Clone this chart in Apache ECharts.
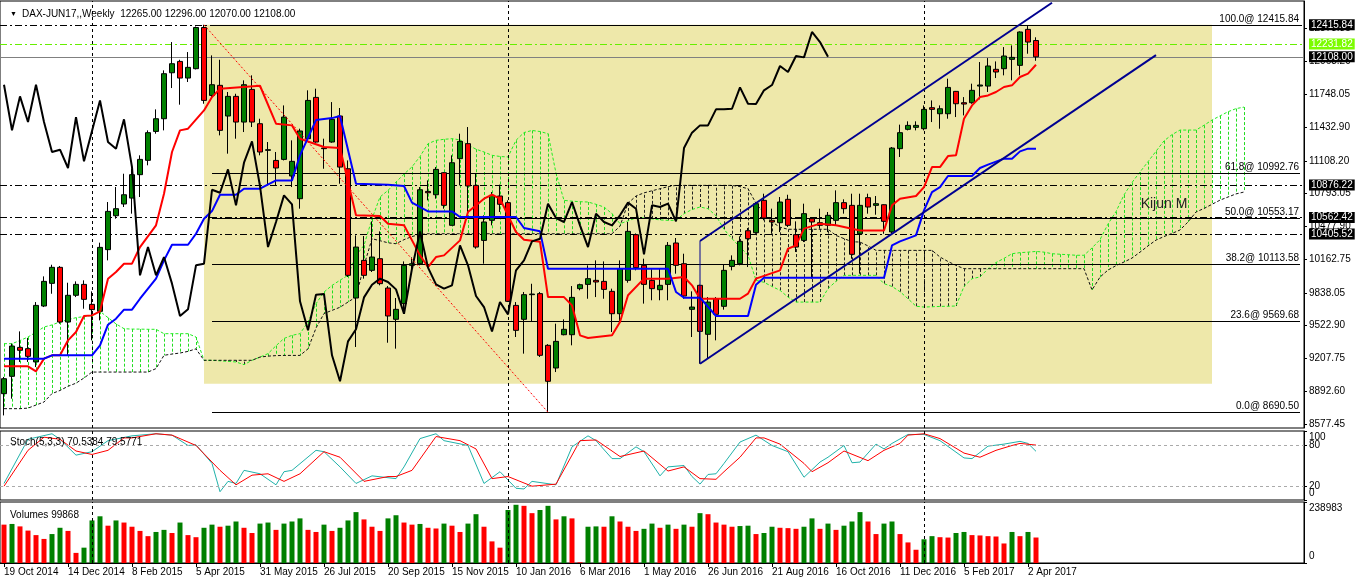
<!DOCTYPE html>
<html>
<head>
<meta charset="utf-8">
<script src="https://cdn.jsdelivr.net/npm/echarts@6/dist/echarts.min.js"></script>
<style>
  html, body { margin: 0; padding: 0; background: #fff; }
  #main { width: 1358px; height: 584px; }
</style>
</head>
<body>
<div id="main"></div>
<script>
// weekly DAX bars, 19 Oct 2014 .. 9 Apr 2017
const opens = [8869,9036,9314,9302,9174,9712,9930,10084,9558,9815,9920,9728,9661,10254,10580,10693,10750,10975,11113,11391,
  11513,11955,12064,11904,11994,12390,11737,11834,11539,11728,11481,11795,11465,11209,11112,11122,10962,10744,11321,11718,
  11231,11289,11539,11032,9789,10151,10055,10167,9885,9584,9735,10103,10119,10814,10782,10994,10488,11129,11273,10872,
  10343,10536,10770,10706,9718,9584,9821,9831,9334,9116,9436,9436,9879,9920,9959,9949,9853,9638,9959,10398,
  10103,9959,9869,9920,10318,10119,9680,9911,9440,9782,9709,10093,10119,10436,10417,10728,10536,10513,10738,10398,
  10343,10552,10513,10488,10536,10706,10680,10407,10754,10680,10686,10424,11225,11411,11430,11417,11619,11561,11561,11776,
  11667,11667,11827,11827,11988,11994,12084,12026,12372,12265];
const highs = [9030,9350,9468,9404,9750,9997,10109,10097,9936,9949,9959,9853,10321,10712,10856,10984,11032,11161,11401,11603,
  11978,12250,12080,12154,12400,12415.84,12122,12080,11770,11753,11882,11930,11513,11289,11193,11641,11305,11417,11786,11802,
  11321,11673,11616,11112,10391,10385,10526,10430,9904,9789,10141,10180,10856,10920,11048,11000,11161,11369,11433,10984,
  10584,10808,10879,10728,9750,9847,9926,9847,9345,9542,9584,9904,9927,10103,10151,10141,9879,10151,10520,10410,
  10167,10065,10071,10327,10366,10215,9853,9917,9798,9798,10109,10199,10382,10462,10712,10792,10648,10760,10782,10526,
  10696,10568,10648,10616,10824,10738,10792,10792,10792,10770,10690,11241,11456,11488,11488,11641,11689,11641,11898,11780,
  11721,11850,12058,12096,12064,12202,12218,12353,12404,12296];
const lows = [8660,8821,9174,9174,9125,9702,9830,9542,9238,9798,9686,9382,9574,10151,10552,10664,10600,10760,11065,11369,
  11401,11808,11648,11866,11987,11657,11705,11353,11177,11321,11385,11433,11161,10872,10872,11112,10856,10648,11305,11282,
  11032,11282,10888,9991,9318,9975,10039,9911,9359,9302,9654,10040,10103,10728,10744,10648,10488,10872,10616,10263,
  10119,10488,10616,9750,9414,9254,9558,9222,8690.5,9077,9430,9334,9863,9782,9798,9782,9462,9558,9936,10055,
  9735,9767,9767,9767,10023,9782,9414,9158,9206,9382,9677,10055,10103,10087,10407,10536,10407,10423,10472,10231,
  10327,9975,10456,10423,10488,10600,10167,10023,10600,10590,10407,10407,11145,11401,11401,11401,11481,11417,11513,11529,
  11545,11657,11699,11770,11904,11930,11882,11930,12138,12070];
const closes = [9013,9327,9286,9228,9718,9949,10084,9558,9815,9920,9776,9677,10276,10622,10648,10782,10975,11122,11379,11513,
  11946,12042,11904,12007,12390,11689,11840,11401,11728,11481,11840,11481,11193,11215,11039,11529,11103,11395,11689,11289,
  11225,11507,11048,10007,10279,10007,10183,9927,9616,9680,10103,10119,10830,10801,11026,10680,11090,11295,10866,10279,
  10520,10776,10690,9757,9478,9821,9827,9238,8988,9372,9488,9795,9917,9975,9943,9872,9638,10071,10430,10081,
  9920,9879,9911,10295,10103,9808,9702,9468,9750,9632,10055,10151,10334,10359,10696,10558,10520,10712,10488,10279,
  10600,10520,10488,10584,10706,10648,10209,10680,10664,10696,10526,11231,11379,11449,11449,11603,11603,11609,11814,11657,
  11654,11786,11837,12020,11962,12116,12103,12347,12250,12108];
const volumes = [150300,153000,143400,127000,109300,94300,113400,138000,125700,39600,
  60100,166700,183000,146200,166700,158500,142100,125700,105200,121600,
  129800,117500,158500,109300,101100,138000,150300,142100,146200,162600,
  138000,117500,154400,158500,129800,154400,162600,174800,129800,121600,
  150300,125700,138000,166700,199400,170800,142100,125700,174800,187100,
  158500,150300,153000,138000,135200,154400,146200,121600,154400,191200,
  142100,84700,60100,207600,228100,224000,195300,207600,224000,170800,
  183000,174800,2700,142100,143400,142100,183000,162600,142100,125700,
  133900,154400,138000,150300,133900,150300,142100,195300,191200,158500,
  150300,142100,144800,146200,113400,117500,142100,138000,136600,133900,
  142100,174800,133900,154400,129800,146200,162600,199400,162600,113400,
  154400,162600,113400,80600,51900,92900,105200,101100,99700,117500,
  121600,109300,107900,105200,103800,76500,121600,105200,121600,99868];

// Ichimoku lines as [bar, price] vertices
const tenkan = [[0,9132],[3,9132],[4,9084],[5,9206],[6,9238],[7,9238],[8,9382],[9,9462],[10,9616],[11,9622],[12,9661],[13,9975],
  [14,10039],[15,10119],[16,10119],[17,10279],[19,10488],[20,10792],[21,11193],[22,11401],[23,11417],[25,11593],[26,11721],
  [27,11802],[32,11830],[34,11465],[36,11449],[37,11321],[40,11241],[42,11231],[44,10584],[47,10577],[48,10504],[50,10488],
  [52,10199],[53,10087],[54,10183],[55,10199],[57,10343],[58,10616],[60,10744],[61,10782],[62,10744],[64,10424],[65,10350],
  [67,10330],[68,9798],[70,9798],[71,9718],[72,9430],[73,9404],[76,9430],[77,9558],[78,9815],[80,9975],[83,9975],[85,9991],
  [86,9911],[87,9782],[92,9782],[93,9831],[94,9975],[97,10055],[98,10263],[99,10295],[100,10456],[102,10504],[104,10488],
  [107,10439],[110,10439],[111,10680],[112,10744],[114,10770],[115,10856],[116,11048],[117,11048],[118,11154],[119,11161],
  [120,11513],[121,11641],[122,11721],[123,11737],[124,11770],[125,11818],[126,11834],[127,11914],[128,11946],[129,12032]];
const kijun = [[0,9206],[5,9206],[6,9238],[11,9238],[12,9334],[13,9532],[14,9590],[15,9677],[16,9677],[17,9782],[19,9975],
  [20,10151],[21,10301],[23,10301],[24,10407],[25,10552],[26,10625],[27,10782],[29,10782],[30,10840],[32,10840],[34,10920],
  [36,10920],[37,11161],[39,11500],[41,11519],[42,11539],[44,10888],[48,10878],[50,10866],[51,10706],[53,10622],[56,10622],
  [57,10568],[64,10568],[65,10462],[67,10430],[68,10071],[83,10071],[84,9847],[85,9792],[87,9792],[89,9616],[93,9616],
  [94,9917],[95,9984],[110,9984],[111,10295],[112,10334],[114,10391],[115,10632],[116,10808],[117,10856],[118,10962],
  [121,10962],[122,11039],[123,11071],[125,11129],[126,11129],[127,11199],[128,11225],[129,11225]];
const spanA = [9350,9350,9380,9414,9460,9510,9530,9560,9580,9600,9610,9620,9661,9600,9540,9494,9490,9490,9488,9488,
  9446,9446,9446,9446,9414,9190,9190,9185,9180,9174,9148,9190,9221,9254,9330,9400,9430,9446,9558,9734,
  9846,9910,9960,10007,10199,10295,10550,10760,10824,10904,10980,11050,11150,11273,11305,11315,11321,11310,11260,11220,
  11193,11161,11150,11145,11305,11380,11400,11390,11369,10990,10728,10720,10715,10712,10690,10664,10600,10504,10530,10560,
  10560,10550,10540,10536,10536,10600,10640,10664,10648,10580,10450,10359,10280,10199,9959,9940,9900,9863,9798,9750,
  9750,9750,9750,9879,9950,10007,10007,10007,10007,10007,9927,9900,9850,9782,9710,9702,9705,9708,9710,9712,
  9900,9975,9991,10071,10130,10170,10215,10225,10230,10237,10230,10215,10210,10205,10200,10200,10270,10350,10500,10620,
  10780,10900,11000,11100,11200,11300,11360,11404,11404,11404,11450,11500,11540,11580,11610,11625];
const spanB = [8725,8725,8725,8730,8760,8789,8870,8900,8940,8970,9020,9077,9077,9077,9077,9077,9077,9077,9077,9110,
  9238,9250,9260,9276,9300,9190,9190,9190,9190,9190,9190,9190,9221,9230,9235,9237,9237,9237,9300,9500,
  9640,9670,9700,9750,9800,10100,10359,10340,10320,10311,10350,10380,10400,10407,10407,10407,10407,10407,10407,10407,
  10407,10407,10407,10407,10407,10407,10407,10407,10407,10407,10407,10407,10407,10407,10407,10407,10407,10480,10700,10770,
  10800,10820,10840,10860,10872,10872,10872,10872,10872,10872,10872,10872,10860,10840,10700,10600,10520,10470,10450,10450,
  10450,10450,10450,10450,10391,10360,10330,10327,10290,10247,10247,10247,10247,10247,10247,10247,10247,10183,10140,10103,
  10071,10071,10071,10071,10071,10071,10071,10071,10071,10071,10071,10071,10071,10071,10071,10071,9866,9990,10058,10100,
  10135,10173,10230,10290,10346,10380,10410,10443,10520,10616,10650,10690,10730,10760,10790,10808];
const CHIKOU_SHIFT = 26;

// Stoch(5,3,3) main and signal, [bar, value]
const stochK = [[0,24],[3,88],[6,96],[7,88],[9,65],[11,70],[13,86],[16,93],[18,95],[19,96],[21,94],[23,79],[24,80],[26,53],
  [27,12],[28,27],[29,24],[30,43],[32,38],[34,22],[35,41],[36,43],[39,72],[40,70],[42,48],[44,24],[46,35],[49,31],[50,48],
  [52,89],[54,96],[55,86],[58,79],[60,24],[62,41],[64,17],[65,16],[66,27],[69,22],[71,77],[73,93],[74,86],[76,60],[77,60],
  [79,77],[80,70],[82,35],[83,48],[85,50],[86,34],[87,23],[88,37],[89,38],[90,53],[92,84],[94,94],[96,79],[98,70],[100,33],
  [102,55],[103,62],[105,79],[106,54],[107,55],[109,81],[110,74],[111,82],[113,95],[115,95],[117,86],[120,61],[121,60],
  [123,78],[125,81],[127,85],[128,82],[129,70.54]];
const stochD = [[0,20],[3,72],[5,91],[7,88],[9,71],[11,66],[13,72],[15,90],[16,90],[19,96],[21,94],[23,84],[24,79],[27,43],
  [29,22],[31,36],[33,38],[35,27],[37,38],[40,70],[42,62],[45,27],[48,34],[49,34],[51,43],[54,92],[57,86],[59,74],[61,31],
  [63,34],[66,20],[69,23],[72,86],[74,87],[77,63],[80,71],[83,42],[85,48],[87,31],[89,30],[90,41],[92,62],[94,90],[95,90],
  [97,81],[100,53],[101,41],[103,54],[105,71],[108,57],[110,72],[112,82],[113,94],[115,96],[117,89],[120,68],[122,62],
  [124,72],[126,79],[127,82],[129,79.58]];

// drawn objects
const fibLevels = [100, 61.8, 50, 38.2, 23.6, 0];
const fibPrices = [12415.84, 10992.76, 10553.17, 10113.58, 9569.68, 8690.50];
const fibBox = [[25, 12416], [151, 8965]];
const fibDiagonal = [[25, 12415.84], [68, 8690.5]];
const channelUpper = [[87, 10337], [131, 12628]];
const channelLower = [[87, 9157], [144, 12125]];
const channelSide = [[87, 9157], [87, 10337]];
const hLines = [12415.84, 10876.22, 10562.42, 10405.52];
const limeLevel = 12231.82;
const lastPrice = 12108.00;
const vLines = [11, 63, 115];

// axes
const priceTicks = [8577.45, 8892.60, 9207.75, 9522.90, 9838.05, 10162.75, 10477.90, 10793.05, 11108.20, 11432.90, 11748.05, 12063.20, 12378.35];
const stochLevels = [20, 80];
const STOCH_MAX = 100;
const VOL_MAX = 238983;
const dateTicks = ['19 Oct 2014','14 Dec 2014','8 Feb 2015','5 Apr 2015','31 May 2015','26 Jul 2015','20 Sep 2015',
  '15 Nov 2015','10 Jan 2016','6 Mar 2016','1 May 2016','26 Jun 2016','21 Aug 2016','16 Oct 2016','11 Dec 2016',
  '5 Feb 2017','2 Apr 2017'];
const TICK_STEP = 8;
const SLOTS = 163;

const FONT = 'Liberation Sans';
const slots = Array.from({length: SLOTS}, (_, i) => String(i));
const isTick = i => i % TICK_STEP === 0 && i / TICK_STEP < dateTicks.length;

const el = document.getElementById('main');
const myChart = echarts.init(el);

const dashDot = [7, 3, 2, 3];
const gridBase = { show: true, borderColor: '#000', borderWidth: 1, backgroundColor: '#fff', outerBoundsMode: 'none' };
const xHidden = gi => ({
  type: 'category', gridIndex: gi, data: slots, boundaryGap: true,
  axisLine: { show: false }, axisTick: { show: false }, axisLabel: { show: false }, splitLine: { show: false }
});
const lblStyle = { color: '#000', fontSize: 10, fontFamily: FONT };
const vMarks = color => ({
  silent: true, symbol: ['none', 'none'], label: { show: false },
  lineStyle: { color: color, type: [3, 3], width: 1 },
  data: vLines.map(v => ({ xAxis: v }))
});
const boxLabel = (bg, fg) => ({
  show: true, position: 'end', distance: 5, backgroundColor: bg, color: fg,
  padding: [1, 2, 0, 2], fontSize: 10, fontFamily: FONT, formatter: p => p.value.toFixed(2)
});
// lower panel scale: inner levels on one axis...
const panelAxis = (gi, max, ticks) => ({
  type: 'value', gridIndex: gi, position: 'right', min: 0, max: max,
  axisLine: { show: true, lineStyle: { color: '#000' } },
  axisTick: { show: true, customValues: [0, ...ticks, max], length: 3, lineStyle: { color: '#000' } },
  axisLabel: Object.assign({ show: ticks.length > 0, customValues: ticks, margin: 5 }, lblStyle),
  splitLine: { show: false }
});
// ...and the 0 / max labels on a twin axis, pulled inside the panel like MT4 does
const edgeAxis = (gi, max) => ({
  type: 'value', gridIndex: gi, position: 'right', min: 0, max: max,
  axisLine: { show: false }, axisTick: { show: false }, splitLine: { show: false },
  axisLabel: Object.assign({
    customValues: [0, max], margin: 5, showMinLabel: true, showMaxLabel: true,
    formatter: v => v === max ? '{top|' + v + '}' : '{bot|' + v + '}',
    rich: {
      top: { padding: [13, 0, 0, 0], fontSize: 10, fontFamily: FONT, color: '#000' },
      bot: { padding: [0, 0, 13, 0], fontSize: 10, fontFamily: FONT, color: '#000' }
    }
  }, lblStyle)
});

const option = {
  animation: false,
  backgroundColor: '#fff',
  title: [
    { text: '\u25BC', left: 5, top: 6, textStyle: { fontSize: 7, color: '#000', fontWeight: 'normal' } },
    { text: 'DAX-JUN17,,Weekly  12265.00 12296.00 12070.00 12108.00', left: 17, top: 4,
      textStyle: { fontSize: 10, color: '#000', fontWeight: 'normal', fontFamily: FONT } },
    { text: 'Stoch(5,3,3) 70.5384 79.5771', left: 5, top: 432,
      textStyle: { fontSize: 10, color: '#000', fontWeight: 'normal', fontFamily: FONT } },
    { text: 'Volumes 99868', left: 5, top: 505,
      textStyle: { fontSize: 10, color: '#000', fontWeight: 'normal', fontFamily: FONT } }
  ],
  grid: [
    Object.assign({ left: 0, top: 1, width: 1304, height: 427 }, gridBase),
    Object.assign({ left: 0, top: 431, width: 1304, height: 69 }, gridBase),
    Object.assign({ left: 0, top: 502, width: 1304, height: 61 }, gridBase)
  ],
  xAxis: [
    xHidden(0),
    xHidden(1),
    {
      type: 'category', gridIndex: 2, data: slots, boundaryGap: true,
      axisLine: { show: true, lineStyle: { color: '#000' } },
      axisTick: { show: true, alignWithLabel: true, interval: i => isTick(i), length: 4, lineStyle: { color: '#000' } },
      axisLabel: Object.assign({ interval: i => isTick(i), align: 'left', margin: 4,
        formatter: (v, i) => dateTicks[i / TICK_STEP] }, lblStyle),
      splitLine: { show: false }
    }
  ],
  yAxis: [
    {
      type: 'value', gridIndex: 0, position: 'right', min: 8539, max: 12645,
      axisLine: { show: true, lineStyle: { color: '#000' } },
      axisTick: { show: true, customValues: priceTicks, length: 3, lineStyle: { color: '#000' } },
      axisLabel: Object.assign({ customValues: priceTicks, margin: 5, formatter: v => v.toFixed(2) }, lblStyle),
      splitLine: { show: false }
    },
    panelAxis(1, STOCH_MAX, stochLevels),
    panelAxis(2, VOL_MAX, []),
    edgeAxis(1, STOCH_MAX),
    edgeAxis(2, VOL_MAX)
  ],
  series: [
    // cloud hatching + fib rectangle behind everything
    {
      type: 'custom', xAxisIndex: 0, yAxisIndex: 0, z: 1, silent: true,
      data: spanA.map((a, i) => [i, a, spanB[i]]),
      encode: { x: 0, y: [1, 2] },
      renderItem: (params, api) => {
        const i = api.value(0);
        const p1 = api.coord([i, api.value(1)]);
        const p2 = api.coord([i, api.value(2)]);
        const x = Math.round(p1[0]) + 0.5;
        const up = api.value(1) >= api.value(2);
        return {
          type: 'line',
          shape: { x1: x, y1: p1[1], x2: x, y2: p2[1] },
          style: { stroke: up ? '#22dd22' : '#222', lineWidth: 1, lineDash: [3, 2] }
        };
      },
      markArea: {
        silent: true, itemStyle: { color: '#EEE8AA' },
        data: [[{ coord: fibBox[0] }, { coord: fibBox[1] }]]
      }
    },
    { name: 'Senkou A', type: 'line', xAxisIndex: 0, yAxisIndex: 0, z: 2, data: spanA, symbol: 'none',
      lineStyle: { color: '#22ee22', width: 1, type: [3, 2] } },
    { name: 'Senkou B', type: 'line', xAxisIndex: 0, yAxisIndex: 0, z: 2, data: spanB, symbol: 'none',
      lineStyle: { color: '#111', width: 1, type: [3, 2] } },
    {
      name: 'DAX', type: 'candlestick', xAxisIndex: 0, yAxisIndex: 0, z: 5, barWidth: 5,
      data: opens.map((o, i) => [o, closes[i], lows[i], highs[i]]),
      itemStyle: { color: '#008000', color0: '#ff0000', borderColor: '#000', borderColor0: '#000', borderWidth: 1 },
      markLine: {
        silent: true, symbol: ['none', 'none'],
        data: [
          ...hLines.map(v => ({ yAxis: v, lineStyle: { color: '#000', type: dashDot, width: 1 }, label: boxLabel('#000', '#fff') })),
          { yAxis: limeLevel, lineStyle: { color: '#66ee00', type: dashDot, width: 1 }, label: boxLabel('#7CFC00', '#fff') },
          { yAxis: lastPrice, lineStyle: { color: '#808080', type: 'solid', width: 1 }, label: boxLabel('#000', '#fff') },
          ...fibPrices.map((p, k) => [
            { coord: [26, p], name: fibLevels[k].toFixed(1) + '@ ' + p.toFixed(2),
              lineStyle: { color: '#000', type: 'solid', width: 1 },
              label: { show: true, position: 'insideEndTop', formatter: '{b}', distance: 1,
                color: '#000', fontSize: 10, fontFamily: FONT } },
            { coord: [162, p] }
          ]),
          ...vLines.map(v => ({ xAxis: v, lineStyle: { color: '#000', type: [3, 3], width: 1 }, label: { show: false } }))
        ]
      },
      markPoint: {
        silent: true, symbol: 'circle', symbolSize: 0,
        data: [{ coord: [145, 10693], label: { show: true, formatter: 'Kijun M', color: '#222', fontSize: 14, fontFamily: FONT } }]
      }
    },
    { name: 'Tenkan', type: 'line', xAxisIndex: 0, yAxisIndex: 0, z: 6, data: tenkan, symbol: 'none',
      lineStyle: { color: '#ff0000', width: 2 } },
    { name: 'Kijun', type: 'line', xAxisIndex: 0, yAxisIndex: 0, z: 6, data: kijun, symbol: 'none',
      lineStyle: { color: '#0000ff', width: 2 } },
    { name: 'Chikou', type: 'line', xAxisIndex: 0, yAxisIndex: 0, z: 6, symbol: 'none',
      data: closes.map((c, i) => [i - CHIKOU_SHIFT, c]).slice(CHIKOU_SHIFT),
      lineStyle: { color: '#000', width: 2 } },
    { type: 'line', xAxisIndex: 0, yAxisIndex: 0, z: 7, data: fibDiagonal, symbol: 'none',
      lineStyle: { color: '#ff0000', width: 1, type: [2, 2] } },
    ...[channelUpper, channelLower, channelSide].map((d, k) => ({
      type: 'line', xAxisIndex: 0, yAxisIndex: 0, z: 7, data: d, symbol: 'none',
      lineStyle: { color: '#000090', width: k === 2 ? 1 : 2 }
    })),
    // stochastic
    {
      name: 'Stoch main', type: 'line', xAxisIndex: 1, yAxisIndex: 1, data: stochK, symbol: 'none',
      lineStyle: { color: '#20B2AA', width: 1 },
      markLine: {
        silent: true, symbol: ['none', 'none'], label: { show: false },
        data: [
          ...stochLevels.map(v => ({ yAxis: v, lineStyle: { color: '#aaa', type: [3, 3], width: 1 } })),
          ...vLines.map(v => ({ xAxis: v, lineStyle: { color: '#000', type: [3, 3], width: 1 } }))
        ]
      }
    },
    { name: 'Stoch signal', type: 'line', xAxisIndex: 1, yAxisIndex: 1, data: stochD, symbol: 'none',
      lineStyle: { color: '#ff0000', width: 1 } },
    // volumes: green when above previous bar
    {
      name: 'Volumes', type: 'bar', xAxisIndex: 2, yAxisIndex: 2, data: volumes, barWidth: 5,
      itemStyle: { color: p => (p.dataIndex > 0 && volumes[p.dataIndex] > volumes[p.dataIndex - 1]) ? '#008000' : '#ff0000' },
      markLine: vMarks('#000')
    }
  ]
};

myChart.setOption(option);
</script>
</body>
</html>
